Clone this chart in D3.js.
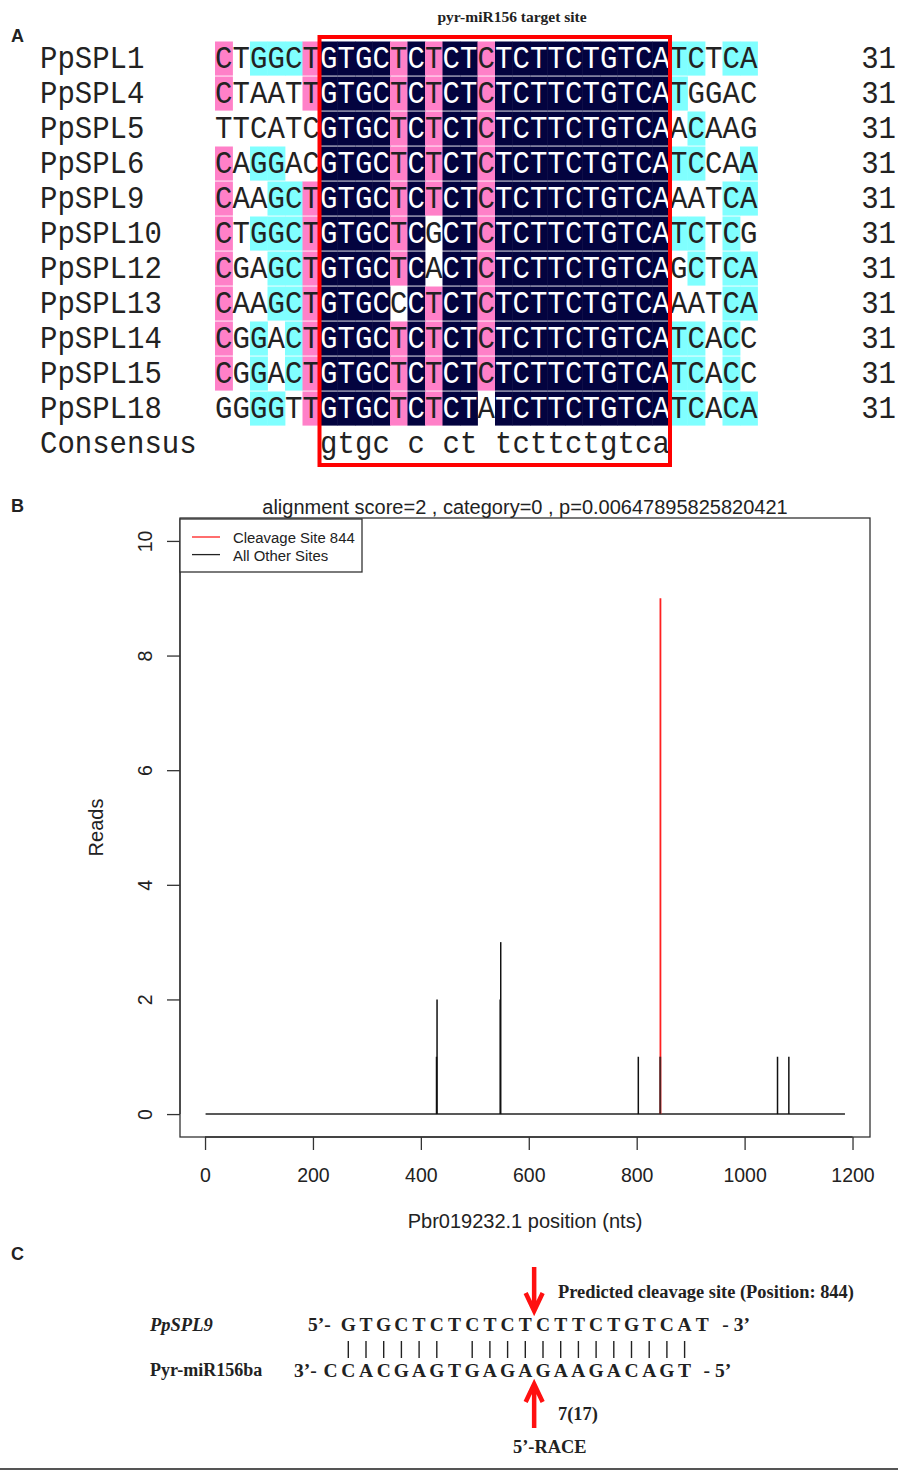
<!DOCTYPE html>
<html><head><meta charset="utf-8">
<script src="https://cdn.jsdelivr.net/npm/d3@7"></script>
<style>body{margin:0;background:#fff} svg{display:block}</style>
</head><body>
<svg id="fig" width="898" height="1471"></svg>
<script>
// ---------- Panel A data ----------
const seqNames = ["PpSPL1","PpSPL4","PpSPL5","PpSPL6","PpSPL9","PpSPL10","PpSPL12","PpSPL13","PpSPL14","PpSPL15","PpSPL18"];
const sequences = [
  "CTGGCTGTGCTCTCTCTCTTCTGTCATCTCA",
  "CTAATTGTGCTCTCTCTCTTCTGTCATGGAC",
  "TTCATCGTGCTCTCTCTCTTCTGTCAACAAG",
  "CAGGACGTGCTCTCTCTCTTCTGTCATCCAA",
  "CAAGCTGTGCTCTCTCTCTTCTGTCAAATCA",
  "CTGGCTGTGCTCGCTCTCTTCTGTCATCTCG",
  "CGAGCTGTGCTCACTCTCTTCTGTCAGCTCA",
  "CAAGCTGTGCCCTCTCTCTTCTGTCAAATCA",
  "CGGACTGTGCTCTCTCTCTTCTGTCATCACC",
  "CGGACTGTGCTCTCTCTCTTCTGTCATCACC",
  "GGGGTTGTGCTCTCTATCTTCTGTCATCACA"
];
const consensusLabel = "Consensus";
const consensusSeq = "      gtgc c ct tcttctgtca     ";
const targetTitle = "pyr-miR156 target site";
const targetCols = [6, 25];

// ---------- Panel B data ----------
const plotTitle = "alignment score=2 , category=0 , p=0.00647895825820421";
const transcriptLength = 1186;
const otherSitePos   = [429, 430, 547, 548, 803, 844, 1061, 1082];
const otherSiteReads = [1,   2,   2,   3,   1,   1,   1,    1];
const cleavagePos   = [844];
const cleavageReads = [9];
const xTicks = [0, 200, 400, 600, 800, 1000, 1200];
const yTicks = [0, 2, 4, 6, 8, 10];
const legendLabels = ["Cleavage Site 844", "All Other Sites"];
const xLabel = "Pbr019232.1 position (nts)";
const yLabel = "Reads";

// ---------- Panel C data ----------
const targetName = "PpSPL9";
const mirName = "Pyr-miR156ba";
const targetSeq = "GTGCTCTCTCTCTTCTGTCAT";
const mirSeq    = "CCACGAGTGAGAGAAGACAGT";
const mirOffset = -1;
const cleavageAfter = 10;
const cleavageText = "Predicted cleavage site (Position: 844)";
const raceCount = "7(17)";
const raceLabel = "5’-RACE";

// =====================================================
const svg = d3.select("#fig");
const ink = "#222";

// panel letters
const panelLetters = [["A", 42], ["B", 512], ["C", 1260]];
svg.selectAll("text.pl").data(panelLetters).join("text").attr("class","pl")
  .attr("x", 11).attr("y", d => d[1]).text(d => d[0])
  .attr("font-family","Liberation Sans, Arial, sans-serif").attr("font-weight","bold")
  .attr("font-size", 18).attr("fill", ink);

// ---------------- Panel A ----------------
(function(){
  const g = svg.append("g");
  const nCol = sequences[0].length;
  const xA = d3.scaleBand().domain(d3.range(nCol)).range([215, 215 + 17.5 * nCol]);
  const rows = seqNames.concat([consensusLabel]);
  const yA = d3.scaleBand().domain(rows).range([41, 41 + 35 * rows.length]);
  const n = sequences.length;
  const pink = "#ff80c8", cyan = "#80ffff", navy = "#03033f";
  function cellColor(col, ch) {
    const cnt = sequences.filter(s => s[col] === ch).length;
    const f = cnt / n;
    if (f === 1) return navy;
    if (f >= 0.75) return pink;
    if (f >= 0.5) return cyan;
    return null;
  }
  const cells = [];
  sequences.forEach((s, r) => {
    s.split("").forEach((ch, c) => cells.push({row: seqNames[r], col: c, ch, fill: cellColor(c, ch)}));
  });
  g.selectAll("rect.cell").data(cells.filter(d => d.fill)).join("rect").attr("class","cell")
    .attr("x", d => xA(d.col)).attr("y", d => yA(d.row) + 0.5)
    .attr("width", xA.bandwidth() + 0.4).attr("height", yA.bandwidth() - 0.9)
    .attr("fill", d => d.fill);
  const mono = "Liberation Mono, Courier New, monospace";
  const tf = (x, y) => `translate(${x},${y}) scale(1,1.08)`;
  g.selectAll("text.ch").data(cells).join("text").attr("class","ch")
    .attr("transform", d => tf(xA(d.col) + xA.bandwidth()/2, yA(d.row) + 27))
    .attr("text-anchor","middle").attr("font-family", mono).attr("font-size", 29)
    .attr("fill", d => d.fill === navy ? "#fff" : ink).text(d => d.ch);
  // consensus
  const cons = consensusSeq.split("").map((ch, c) => ({ch, col: c})).filter(d => d.ch !== " ");
  g.selectAll("text.cons").data(cons).join("text").attr("class","cons")
    .attr("transform", d => tf(xA(d.col) + xA.bandwidth()/2, yA(consensusLabel) + 27))
    .attr("text-anchor","middle").attr("font-family", mono).attr("font-size", 29)
    .attr("fill", ink).text(d => d.ch);
  // labels
  g.selectAll("text.lab").data(rows).join("text").attr("class","lab")
    .attr("transform", d => tf(40, yA(d) + 27)).attr("font-family", mono).attr("font-size", 29)
    .attr("fill", ink).text(d => d);
  g.selectAll("text.len").data(sequences).join("text").attr("class","len")
    .attr("transform", (d, i) => tf(896, yA(seqNames[i]) + 27)).attr("text-anchor","end")
    .attr("font-family", mono).attr("font-size", 29).attr("fill", ink).text(d => d.length);
  // red target box
  const bx0 = xA(targetCols[0]) - 0.5, bx1 = xA(targetCols[1]) + xA.bandwidth();
  g.append("rect").attr("x", bx0).attr("y", 37).attr("width", bx1 - bx0).attr("height", 465 - 37)
    .attr("fill","none").attr("stroke","#ff0000").attr("stroke-width", 4);
  g.append("text").attr("x", 512).attr("y", 22).attr("text-anchor","middle")
    .attr("font-family","Liberation Serif, Times New Roman, serif").attr("font-weight","bold")
    .attr("font-size", 15.5).attr("fill", ink).text(targetTitle);
})();

// ---------------- Panel B ----------------
(function(){
  const g = svg.append("g");
  const L = 180, R = 870, T = 518, B = 1137;
  const xB = d3.scaleLinear().domain([-46.4, 1232.4]).range([L, R]);
  const yB = d3.scaleLinear().domain([-0.4, 10.4]).range([B, T]);
  const sans = "Liberation Sans, Arial, sans-serif";
  const fs = 19.5;
  // baseline
  g.append("path").datum([1, transcriptLength])
    .attr("d", d3.line().x(d => xB(d)).y(() => yB(0)))
    .attr("stroke", ink).attr("stroke-width", 1.4).attr("fill","none");
  const others = otherSitePos.map((p, i) => ({p, r: otherSiteReads[i]}));
  g.selectAll("line.os").data(others).join("line").attr("class","os")
    .attr("x1", d => xB(d.p)).attr("x2", d => xB(d.p))
    .attr("y1", yB(0)).attr("y2", d => yB(d.r))
    .attr("stroke", "#111").attr("stroke-width", 1.5);
  const cl = cleavagePos.map((p, i) => ({p, r: cleavageReads[i]}));
  g.selectAll("line.cs").data(cl).join("line").attr("class","cs")
    .attr("x1", d => xB(d.p)).attr("x2", d => xB(d.p))
    .attr("y1", yB(0)).attr("y2", d => yB(d.r))
    .attr("stroke", "#ff2020").attr("stroke-width", 1.8);
  g.selectAll("line.os2").data(others.filter(d => cleavagePos.includes(d.p))).join("line").attr("class","os2")
    .attr("x1", d => xB(d.p) - 0.3).attr("x2", d => xB(d.p) - 0.3)
    .attr("y1", yB(0)).attr("y2", d => yB(d.r))
    .attr("stroke", "#222").attr("stroke-width", 1.3);
  // box
  g.append("rect").attr("x", L).attr("y", T).attr("width", R - L).attr("height", B - T)
    .attr("fill","none").attr("stroke","#333").attr("stroke-width", 1.3);
  // axes
  const ax = g.append("g").attr("transform", `translate(0,${B})`)
    .call(d3.axisBottom(xB).tickValues(xTicks).tickFormat(d3.format("d")).tickSize(13).tickSizeOuter(0));
  ax.select(".domain").attr("d", `M${xB(xTicks[0])},0H${xB(xTicks[xTicks.length-1])}`);
  ax.selectAll("text").attr("font-family", sans).attr("font-size", fs).attr("dy", null).attr("y", 45);
  const ay = g.append("g").attr("transform", `translate(${L},0)`)
    .call(d3.axisLeft(yB).tickValues(yTicks).tickFormat(d3.format("d")).tickSize(13).tickSizeOuter(0));
  ay.select(".domain").attr("d", `M0,${yB(yTicks[0])}V${yB(yTicks[yTicks.length-1])}`);
  ay.selectAll("text").attr("x", null).attr("dy", null).attr("text-anchor","middle")
    .attr("transform","translate(-28,0) rotate(-90)")
    .attr("font-family", sans).attr("font-size", fs);
  [ax, ay].forEach(a => { a.attr("color", "#333"); a.selectAll("text").attr("fill", ink); a.selectAll("line,path").attr("stroke-width", 1.3); });
  // titles
  g.append("text").attr("x", (L + R)/2).attr("y", 514).attr("text-anchor","middle")
    .attr("font-family", sans).attr("font-size", 20).attr("fill", ink).text(plotTitle);
  g.append("text").attr("x", (L + R)/2).attr("y", 1228).attr("text-anchor","middle")
    .attr("font-family", sans).attr("font-size", 20).attr("fill", ink).text(xLabel);
  g.append("text").attr("transform", `translate(103,${(T + B)/2}) rotate(-90)`).attr("text-anchor","middle")
    .attr("font-family", sans).attr("font-size", 20).attr("fill", ink).text(yLabel);
  // legend
  const lg = g.append("g");
  lg.append("rect").attr("x", L).attr("y", 519).attr("width", 182).attr("height", 53)
    .attr("fill","#fff").attr("stroke","#333").attr("stroke-width", 1.3);
  const legCols = ["#ff2020", "#222"];
  legendLabels.forEach((t, i) => {
    const yy = 537 + i * 17.6;
    lg.append("line").attr("x1", 192).attr("x2", 220).attr("y1", yy).attr("y2", yy)
      .attr("stroke", legCols[i]).attr("stroke-width", 1.3);
    lg.append("text").attr("x", 233).attr("y", yy + 6).attr("font-family", sans)
      .attr("font-size", 14.9).attr("fill", ink).text(t);
  });
})();

// ---------------- Panel C ----------------
(function(){
  const g = svg.append("g");
  const serif = "Liberation Serif, Times New Roman, serif";
  const xC = d3.scaleLinear().domain([0, targetSeq.length - 1]).range([348.3, 702.3]);
  const yTop = 1331, yBot = 1377;
  const sf = 19.5;
  g.append("text").attr("x", 150).attr("y", yTop).attr("font-family", serif).attr("font-style","italic")
    .attr("font-weight","bold").attr("font-size", 18.5).attr("fill", ink).text(targetName);
  g.append("text").attr("x", 150).attr("y", yBot - 1).attr("font-family", serif)
    .attr("font-weight","bold").attr("font-size", 18).attr("fill", ink).text(mirName);
  g.append("text").attr("x", 308).attr("y", yTop).attr("font-family", serif).attr("font-weight","bold")
    .attr("font-size", sf).attr("fill", ink).text("5’-");
  g.append("text").attr("x", 294).attr("y", yBot).attr("font-family", serif).attr("font-weight","bold")
    .attr("font-size", sf).attr("fill", ink).text("3’-");
  g.selectAll("text.ts").data(targetSeq.split("")).join("text").attr("class","ts")
    .attr("x", (d, i) => xC(i)).attr("y", yTop).attr("text-anchor","middle")
    .attr("font-family", serif).attr("font-weight","bold").attr("font-size", sf).attr("fill", ink).text(d => d);
  g.selectAll("text.ms").data(mirSeq.split("")).join("text").attr("class","ms")
    .attr("x", (d, i) => xC(i + mirOffset)).attr("y", yBot).attr("text-anchor","middle")
    .attr("font-family", serif).attr("font-weight","bold").attr("font-size", sf).attr("fill", ink).text(d => d);
  g.append("text").attr("x", xC(targetSeq.length - 1) + 20).attr("y", yTop).attr("font-family", serif)
    .attr("font-weight","bold").attr("font-size", sf).attr("fill", ink).text("- 3’");
  g.append("text").attr("x", xC(mirSeq.length - 1 + mirOffset) + 19).attr("y", yBot).attr("font-family", serif)
    .attr("font-weight","bold").attr("font-size", sf).attr("fill", ink).text("- 5’");
  const comp = {A:"T", T:"A", G:"C", C:"G"};
  const pairs = targetSeq.split("").map((ch, j) => ({j, ch, m: mirSeq[j - mirOffset]}))
    .filter(d => d.m && comp[d.ch] === d.m);
  g.selectAll("line.bar").data(pairs).join("line").attr("class","bar")
    .attr("x1", d => xC(d.j)).attr("x2", d => xC(d.j)).attr("y1", 1341).attr("y2", 1358)
    .attr("stroke", ink).attr("stroke-width", 1.4);
  // arrows
  const ax = (xC(cleavageAfter) + xC(cleavageAfter + 1)) / 2;
  const red = "#ff1010";
  g.append("path").attr("d", `M${ax},1267V1309M${ax-8.5},1293L${ax},1311L${ax+8.5},1293`)
    .attr("stroke", red).attr("stroke-width", 4.5).attr("fill","none").attr("stroke-linejoin","miter");
  g.append("path").attr("d", `M${ax},1428V1386M${ax-8.5},1402L${ax},1384L${ax+8.5},1402`)
    .attr("stroke", red).attr("stroke-width", 4.5).attr("fill","none").attr("stroke-linejoin","miter");
  g.append("text").attr("x", 558).attr("y", 1298).attr("font-family", serif).attr("font-weight","bold")
    .attr("font-size", 18.4).attr("fill", ink).text(cleavageText);
  g.append("text").attr("x", 558).attr("y", 1420).attr("font-family", serif).attr("font-weight","bold")
    .attr("font-size", 18.4).attr("fill", ink).text(raceCount);
  g.append("text").attr("x", 513).attr("y", 1453).attr("font-family", serif).attr("font-weight","bold")
    .attr("font-size", 18.4).attr("fill", ink).text(raceLabel);
  g.append("line").attr("x1", 0).attr("x2", 898).attr("y1", 1469).attr("y2", 1469)
    .attr("stroke", "#555").attr("stroke-width", 2);
})();
</script>
</body></html>
